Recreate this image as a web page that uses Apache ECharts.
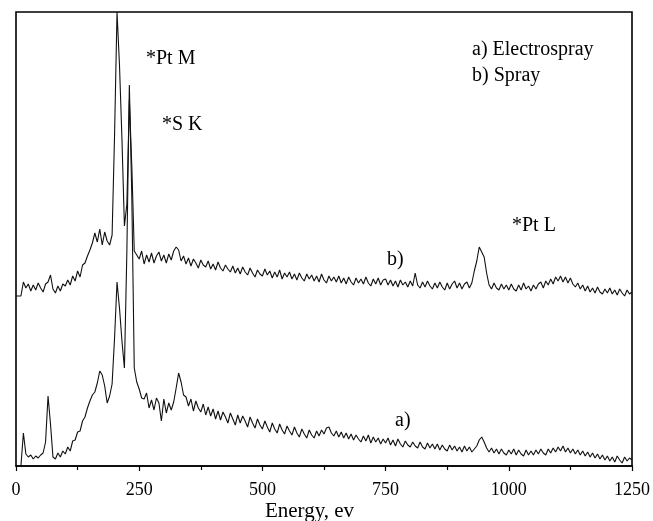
<!DOCTYPE html>
<html>
<head>
    <title>EDX spectra</title>
    <script src="https://cdn.jsdelivr.net/npm/echarts@6.0.0/dist/echarts.min.js"></script>
    <style>
        body { margin: 0; background: #fff; }
        #chart { width: 653px; height: 521px; }
    </style>
</head>
<body>
    <div id="chart"></div>
    <script>
        // energy channels, eV
        const energyStart = 0;
        const energyStep = 5;
        const xTicks = [0, 250, 500, 750, 1000, 1250];

        // b) Spray (upper trace), counts in arbitrary units
        const sprayCounts = [
            170, 170, 170, 184, 178, 182, 175, 181, 176, 183,
            178, 174, 182, 184, 191, 177, 173, 180, 175, 182,
            180, 186, 181, 190, 185, 195, 189, 201, 203, 210,
            216, 223, 233, 224, 237, 221, 234, 225, 221, 231,
            331, 454, 401, 327, 240, 262, 366, 300, 215, 211,
            207, 215, 202, 211, 204, 213, 203, 210, 214, 205,
            211, 203, 212, 206, 215, 219, 216, 205, 210, 202,
            208, 200, 207, 203, 198, 206, 201, 199, 205, 197,
            202, 196, 204, 198, 195, 201, 197, 194, 200, 193,
            198, 192, 199, 194, 191, 198, 193, 189, 196, 192,
            190, 197, 191, 195, 188, 194, 189, 196, 187, 193,
            189, 194, 187, 192, 186, 193, 188, 185, 192, 187,
            191, 185, 190, 184, 192, 186, 183, 190, 185, 189,
            184, 190, 183, 188, 182, 189, 184, 181, 188, 183,
            187, 182, 189, 183, 180, 187, 182, 188, 181, 186,
            187, 181, 186, 180, 185, 179, 186, 181, 184, 179,
            185, 180, 193, 181, 178, 184, 179, 185, 180, 177,
            183, 178, 184, 179, 176, 183, 177, 182, 185, 178,
            183, 177, 182, 184, 178, 183, 195, 205, 219, 214,
            209, 193, 181, 177, 183, 178, 176, 182, 177, 181,
            176, 182, 177, 175, 181, 176, 183, 177, 180, 175,
            181, 177, 182, 184, 178, 185, 181, 187, 182, 189,
            185, 190, 184, 189, 183, 188, 182, 179, 183, 177,
            181, 175, 180, 174, 178, 173, 179, 174, 172, 177,
            173, 178, 172, 176, 171, 177, 173, 170, 176, 172,
            174
        ];

        // a) Electrospray (lower trace)
        const electrosprayCounts = [
            null, null, 0, 33, 12, 9, 11, 7, 10, 8,
            11, 13, 24, 70, 42, 9, 7, 13, 9, 15,
            12, 19, 15, 25, 26, 34, 35, 45, 49, 58,
            65, 71, 74, 83, 95, 91, 80, 63, 70, 82,
            128, 184, 158, 125, 98, 215, 381, 270, 98, 84,
            77, 68, 67, 73, 58, 66, 56, 68, 63, 45,
            67, 53, 63, 56, 64, 78, 93, 84, 71, 69,
            60, 67, 55, 65, 58, 54, 62, 51, 59, 50,
            57, 47, 55, 46, 54, 49, 43, 53, 47, 41,
            51, 43, 50, 45, 39, 49, 43, 38, 47, 41,
            37, 45, 39, 34, 43, 37, 33, 42, 36, 32,
            40, 35, 31, 39, 33, 29, 37, 32, 28, 36,
            31, 28, 35, 30, 36, 32, 38, 39, 33, 30,
            35, 29, 34, 28, 33, 27, 32, 26, 31, 27,
            24, 30, 25, 31, 23, 29, 24, 28, 22, 27,
            23, 28, 21, 26, 20, 27, 22, 19, 25, 21,
            19, 24, 20, 18, 24, 19, 17, 23, 18, 22,
            17, 22, 16, 21, 17, 15, 21, 16, 20, 15,
            19, 14, 20, 15, 19, 14, 17, 20, 26, 29,
            24, 18, 14, 18, 13, 17, 12, 17, 13, 11,
            16, 12, 17, 11, 16, 12, 10, 16, 11, 15,
            11, 16, 12, 17, 13, 11, 17, 13, 18, 14,
            19, 15, 20, 14, 18, 13, 17, 12, 16, 11,
            15, 10, 14, 9, 13, 8, 12, 7, 11, 6,
            10, 5, 9, 4, 10, 6, 3, 9, 5, 8,
            6
        ];

        const labels = [
            { text: '*Pt M', x: 146, y: 59 },
            { text: '*S K', x: 162, y: 125 },
            { text: 'a) Electrospray', x: 472, y: 50 },
            { text: 'b) Spray', x: 472, y: 76 },
            { text: '*Pt L', x: 512, y: 226 },
            { text: 'b)', x: 387, y: 260 },
            { text: 'a)', x: 395, y: 421 }
        ];

        const serif = '"Liberation Serif", "Times New Roman", serif';

        function toPairs(values) {
            return values.map((v, i) => [energyStart + i * energyStep, v]);
        }

        const chart = echarts.init(document.getElementById('chart'));

        chart.setOption({
            animation: false,
            backgroundColor: '#fff',
            grid: {
                left: 16, right: 21, top: 12, bottom: 55,
                containLabel: false,
                outerBoundsMode: 'none',
                show: true,
                borderColor: '#000',
                borderWidth: 1.6
            },
            xAxis: {
                type: 'value',
                min: xTicks[0],
                max: xTicks[xTicks.length - 1],
                interval: 250,
                name: 'Energy, ev',
                nameLocation: 'middle',
                nameGap: 29,
                nameMoveOverlap: false,
                nameTextStyle: {
                    fontFamily: serif, fontSize: 21, color: '#000',
                    padding: [0, 29, 0, 0]
                },
                axisLine: { lineStyle: { color: '#000', width: 1.6 } },
                axisTick: { inside: false, length: 5, lineStyle: { color: '#000', width: 1.2 } },
                minorTick: { show: true, splitNumber: 2, length: 4, lineStyle: { color: '#000', width: 1.2 } },
                splitLine: { show: false },
                axisLabel: {
                    fontFamily: serif, fontSize: 18, color: '#000', margin: 11,
                    formatter: v => String(v)
                }
            },
            yAxis: {
                type: 'value',
                min: 0,
                max: 454,
                show: false
            },
            series: [
                {
                    name: 'b) Spray',
                    type: 'line',
                    data: toPairs(sprayCounts),
                    symbol: 'none',
                    lineStyle: { color: '#111', width: 1.1 }
                },
                {
                    name: 'a) Electrospray',
                    type: 'line',
                    data: toPairs(electrosprayCounts),
                    symbol: 'none',
                    connectNulls: false,
                    lineStyle: { color: '#111', width: 1.1 }
                }
            ],
            graphic: labels.map(l => ({
                type: 'text',
                x: l.x,
                y: l.y,
                style: {
                    text: l.text,
                    font: '20px ' + serif,
                    fill: '#000',
                    verticalAlign: 'middle'
                }
            }))
        });
    </script>
</body>
</html>
